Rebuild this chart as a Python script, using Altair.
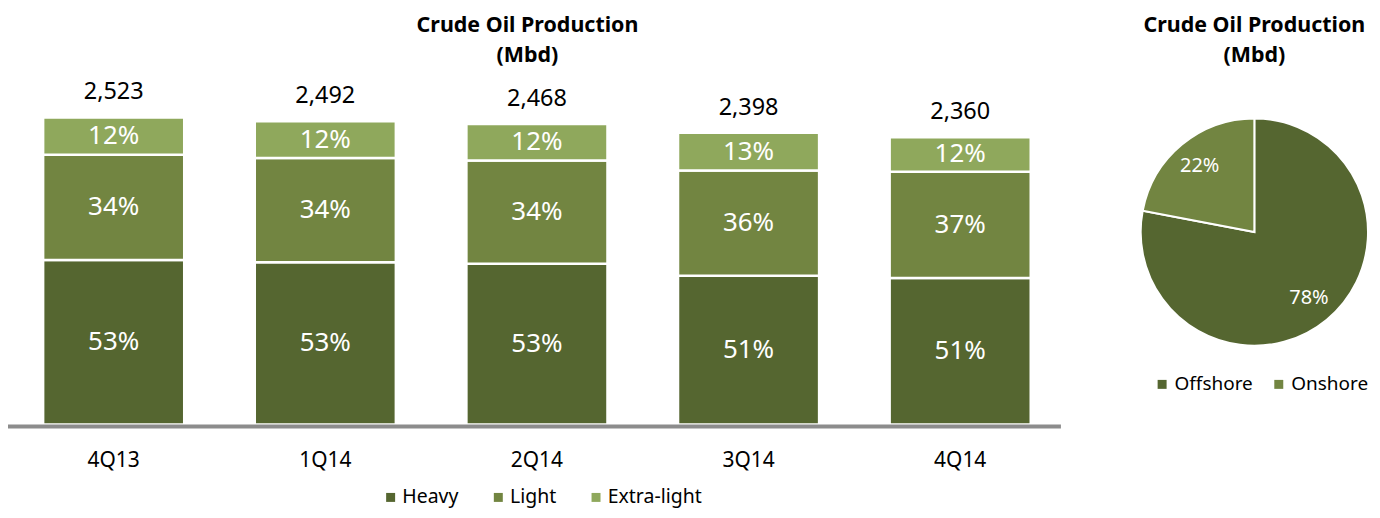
import altair as alt
import pandas as pd

# ---- data ----
quarters = ["4Q13", "1Q14", "2Q14", "3Q14", "4Q14"]
totals = [2523, 2492, 2468, 2398, 2360]
heavy_pct = [53, 53, 53, 51, 51]
light_pct = [34, 34, 34, 36, 37]
xlight_pct = [12, 12, 12, 13, 12]
types = ["Heavy", "Light", "Extra-light"]
type_colors = ["#556630", "#728541", "#8FA85C"]

pie_names = ["Offshore", "Onshore"]
pie_values = [78, 22]
pie_colors = ["#556630", "#728541"]

title_text = "Crude Oil Production\n(Mbd)"

FONT = "Noto Sans"

# ---- tables ----
rows = []
for q, t, h, l, x in zip(quarters, totals, heavy_pct, light_pct, xlight_pct):
    s = h + l + x
    cum = 0.0
    for k, (name, p) in enumerate(zip(types, [h, l, x])):
        v = t * p / s
        rows.append(dict(quarter=q, type=name, order=k, y0=cum, y1=cum + v,
                         mid=cum + v / 2, label=f"{p}%"))
        cum += v
bar_df = pd.DataFrame(rows)
tot_df = pd.DataFrame(dict(quarter=quarters, total=totals,
                           label=[f"{t:,}" for t in totals]))
pie_df = pd.DataFrame(dict(name=pie_names, value=pie_values,
                           order=list(range(len(pie_names))),
                           label=[f"{v}%" for v in pie_values]))
one = pd.DataFrame(dict(a=[0]))

W, H = 1056, 417
yscale = alt.Scale(domain=[0, 3416], nice=False, zero=True)
xscale = alt.Scale(domain=quarters, paddingInner=0.3333, paddingOuter=0.1543,
                   align=0.538)
xenc = alt.X("quarter:N", scale=xscale, sort=quarters,
             axis=alt.Axis(title=None, labelAngle=0, ticks=False, domain=False,
                           labelFont=FONT, labelFontSize=21, labelColor="black",
                           labelPadding=25))

bars = alt.Chart(bar_df).mark_bar(stroke="white", strokeWidth=2.5).encode(
    x=xenc,
    y=alt.Y("y0:Q", scale=yscale, axis=None),
    y2="y1",
    color=alt.Color("type:N", scale=alt.Scale(domain=types, range=type_colors),
                    legend=alt.Legend(title=None, orient="none", legendX=374,
                                      legendY=480, direction="horizontal",
                                      symbolType="square", symbolSize=81,
                                      symbolStrokeWidth=0,
                                      labelFont=FONT, labelFontSize=19.5,
                                      labelColor="black", columnPadding=30,
                                      labelOffset=2, padding=0)),
    order=alt.Order("order:Q"),
)
pct = alt.Chart(bar_df).mark_text(color="white", font=FONT, fontSize=26,
                                  baseline="middle").encode(
    x=alt.X("quarter:N", scale=xscale, sort=quarters),
    y=alt.Y("mid:Q", scale=yscale),
    text="label:N",
)
tots = alt.Chart(tot_df).mark_text(color="black", font=FONT, fontSize=23.5,
                                   baseline="middle", dy=-25).encode(
    x=alt.X("quarter:N", scale=xscale, sort=quarters),
    y=alt.Y("total:Q", scale=yscale),
    text="label:N",
)
axis_line = alt.Chart(one).mark_rect(color="#8c8c8c").encode(
    x=alt.value(0), x2=alt.value(W), y=alt.value(H), y2=alt.value(H + 4))

def title_mark(cx):
    return alt.Chart(one).mark_text(font=FONT, fontSize=21.5, fontWeight="bold",
                                    color="black", baseline="alphabetic",
                                    lineBreak="\n", lineHeight=30).encode(
        x=alt.value(cx), y=alt.value(23), text=alt.value(title_text))

bar_chart = alt.layer(bars, pct, tots, axis_line, title_mark(521)).properties(
    width=W, height=H)

PW = 228
pbase = alt.Chart(pie_df).encode(
    theta=alt.Theta("value:Q", stack=True),
    order=alt.Order("order:Q"),
)
arcs = pbase.mark_arc(outerRadius=114, stroke="white", strokeWidth=2).encode(
    x=alt.value(114), y=alt.value(224),
    color=alt.Color("name:N", scale=alt.Scale(domain=pie_names, range=pie_colors),
                    legend=alt.Legend(title=None, orient="none", legendX=12,
                                      legendY=367, direction="horizontal",
                                      symbolType="square", symbolSize=81,
                                      symbolStrokeWidth=0,
                                      labelFont=FONT, labelFontSize=19,
                                      labelColor="black", columnPadding=16,
                                      labelOffset=3, padding=0)),
)
plabels = pbase.mark_text(radius=86, font=FONT, fontSize=20, color="white",
                          baseline="middle").encode(
    x=alt.value(114), y=alt.value(224), text="label:N")
pie_chart = alt.layer(arcs, plabels, title_mark(114)).properties(width=PW, height=H)

chart = alt.hconcat(bar_chart, pie_chart, spacing=76).resolve_scale(
    color="independent").properties(padding=0).configure_view(stroke=None)

chart.save("out.html", embed_options={"renderer": "svg", "actions": False})
